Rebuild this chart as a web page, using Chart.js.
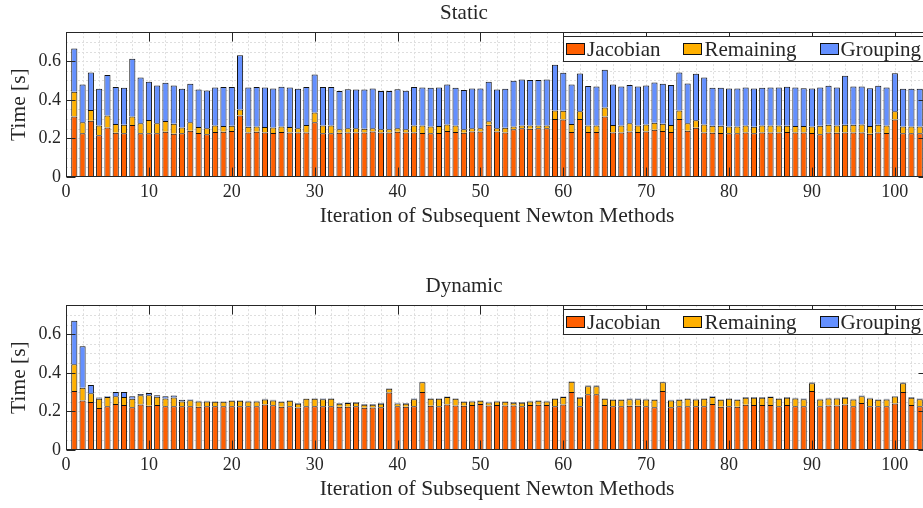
<!DOCTYPE html>
<html>
<head>
<meta charset="utf-8">
<script src="https://cdn.jsdelivr.net/npm/chart.js@4.4.1/dist/chart.umd.min.js"></script>
<style>
  html, body { margin: 0; padding: 0; background: #fff; overflow: hidden; }
  #wrap { position: relative; width: 923px; height: 508px; overflow: hidden; background: #fff; }
  canvas { position: absolute; left: 0; }
  #cStatic { top: 0; }
  #cDynamic { top: 273px; }
</style>
</head>
<body>
<div id="wrap">
  <canvas id="cStatic" width="940" height="235"></canvas>
  <canvas id="cDynamic" width="940" height="235"></canvas>
</div>
<script>
// Newton iteration index (one stacked bar per iteration)
const iterations = Array.from({ length: 103 }, (_, i) => i + 1);

const xTickValues = [0, 10, 20, 30, 40, 50, 60, 70, 80, 90, 100];
const yTickValues = [0, 0.2, 0.4, 0.6];

// Static grouping: time per iteration [s]
const staticJacobian = [
  .314,.226,.291,.216,.257,.229,.226,.269,.226,.226,
  .226,.234,.224,.226,.240,.228,.222,.233,.234,.238,
  .319,.231,.234,.231,.228,.233,.231,.231,.231,.283,
  .226,.226,.229,.231,.231,.231,.236,.231,.231,.234,
  .231,.231,.228,.226,.228,.238,.233,.229,.236,.236,
  .270,.236,.231,.247,.252,.250,.252,.252,.300,.298,
  .233,.300,.233,.233,.314,.231,.231,.236,.233,.236,
  .245,.238,.233,.300,.240,.255,.231,.229,.228,.226,
  .226,.231,.226,.231,.231,.231,.233,.231,.231,.228,
  .221,.231,.229,.231,.231,.231,.224,.231,.228,.298,
  .226,.226,.226
];
const staticRemaining = [
  .127,.057,.056,.051,.062,.045,.045,.045,.053,.069,
  .052,.056,.052,.031,.043,.031,.030,.034,.030,.028,
  .031,.029,.028,.028,.029,.029,.028,.021,.038,.051,
  .041,.041,.018,.021,.021,.019,.017,.016,.016,.018,
  .016,.036,.039,.036,.036,.034,.034,.018,.016,.016,
  .019,.016,.024,.015,.015,.017,.015,.015,.045,.045,
  .041,.041,.034,.034,.046,.038,.036,.042,.034,.036,
  .036,.038,.036,.045,.038,.039,.041,.037,.038,.036,
  .036,.036,.034,.036,.036,.036,.033,.033,.033,.034,
  .045,.040,.038,.040,.040,.041,.040,.040,.039,.043,
  .036,.036,.036
];
const staticGrouping = [
  .225,.196,.194,.190,.209,.192,.191,.298,.237,.198,
  .196,.198,.198,.200,.200,.194,.196,.197,.202,.200,
  .281,.204,.204,.205,.202,.205,.205,.205,.197,.197,
  .199,.199,.198,.203,.201,.203,.206,.198,.198,.203,
  .200,.199,.197,.200,.200,.207,.195,.203,.207,.207,
  .205,.201,.202,.236,.238,.236,.236,.238,.236,.197,
  .205,.195,.204,.202,.195,.210,.202,.198,.202,.202,
  .209,.207,.207,.196,.206,.241,.244,.196,.196,.197,
  .197,.197,.199,.195,.197,.197,.201,.200,.196,.197,
  .198,.201,.197,.253,.198,.197,.196,.201,.197,.197,
  .195,.195,.195
];

// Dynamic grouping: time per iteration [s]
const dynamicJacobian = [
  .306,.257,.248,.217,.226,.238,.233,.221,.236,.229,
  .233,.226,.226,.226,.226,.224,.226,.226,.226,.227,
  .227,.226,.226,.236,.232,.224,.226,.220,.226,.226,
  .226,.226,.224,.224,.227,.219,.220,.222,.298,.226,
  .224,.226,.300,.229,.227,.236,.231,.229,.233,.238,
  .231,.233,.231,.231,.227,.233,.234,.233,.226,.236,
  .300,.227,.289,.289,.233,.227,.227,.229,.229,.227,
  .222,.306,.222,.227,.227,.226,.227,.238,.224,.227,
  .224,.234,.233,.233,.233,.226,.233,.227,.227,.305,
  .227,.231,.231,.236,.227,.243,.227,.226,.226,.241,
  .300,.233,.227
];
const dynamicRemaining = [
  .138,.065,.046,.048,.048,.041,.041,.044,.047,.055,
  .043,.041,.046,.025,.032,.027,.025,.024,.024,.028,
  .028,.025,.025,.026,.024,.026,.029,.019,.039,.039,
  .037,.039,.015,.019,.018,.015,.014,.017,.019,.015,
  .015,.037,.051,.036,.038,.038,.034,.021,.018,.017,
  .015,.018,.019,.014,.018,.018,.021,.018,.039,.038,
  .053,.043,.041,.041,.032,.033,.033,.034,.034,.035,
  .038,.045,.034,.033,.038,.036,.038,.037,.036,.038,
  .036,.036,.037,.037,.041,.039,.037,.040,.036,.041,
  .035,.036,.036,.034,.035,.036,.040,.034,.036,.036,
  .046,.037,.036
];
const dynamicGrouping = [
  .225,.216,.043,.007,.005,.021,.026,.014,.007,.011,
  .008,.012,.010,.009,.004,.004,.004,.003,.003,.003,
  .003,.004,.004,.003,.004,.003,.003,.004,.002,.003,
  .004,.003,.004,.003,.003,.004,.004,.004,.003,.004,
  .004,.004,.003,.003,.003,.003,.003,.003,.004,.003,
  .004,.004,.003,.003,.003,.004,.003,.004,.003,.003,
  .003,.004,.004,.004,.003,.003,.003,.004,.004,.003,
  .003,.003,.004,.003,.003,.003,.003,.004,.003,.003,
  .003,.004,.004,.004,.003,.003,.004,.003,.004,.003,
  .003,.003,.003,.004,.003,.003,.003,.003,.003,.003,
  .003,.004,.004
];

const COLORS = { jacobian: '#FF5F00', remaining: '#FFB000', grouping: '#6490FF' };
const FONT = "'Liberation Serif', 'Times New Roman', serif";
const INK = '#262626';
const X_MAX = 104, Y_MAX = 0.75;

function makeDatasets(jac, rem, grp) {
  const series = [
    ['Jacobian', jac, COLORS.jacobian],
    ['Remaining', rem, COLORS.remaining],
    ['Grouping', grp, COLORS.grouping]
  ];
  return series.map(([label, values, color]) => ({
    label,
    data: iterations.map((x, i) => ({ x, y: values[i] })),
    backgroundColor: color,
    borderColor: '#111',
    borderWidth: 1,
    // one edge line between stacked segments
    borderSkipped: 'bottom',
    barPercentage: 0.74,
    categoryPercentage: 1
  }));
}

// dotted minor/major grid inside the plot box
const dottedGrid = {
  id: 'dottedGrid',
  beforeDatasetsDraw(chart) {
    const { ctx, chartArea: a, scales: { x, y } } = chart;
    ctx.save();
    ctx.beginPath();
    ctx.rect(a.left, a.top, a.right - a.left, a.bottom - a.top);
    ctx.clip();
    ctx.strokeStyle = '#dedede';
    ctx.lineWidth = 1;
    ctx.setLineDash([2, 2]);
    for (let v = 2; v < X_MAX; v += 2) {
      const px = Math.round(x.getPixelForValue(v)) + 0.5;
      ctx.beginPath(); ctx.moveTo(px, a.top); ctx.lineTo(px, a.bottom); ctx.stroke();
    }
    for (let k = 1; k * 0.05 < Y_MAX - 1e-9; k++) {
      const py = Math.round(y.getPixelForValue(k * 0.05)) + 0.5;
      ctx.beginPath(); ctx.moveTo(a.left, py); ctx.lineTo(a.right, py); ctx.stroke();
    }
    ctx.restore();
  }
};

// axes box with inward tick marks on all four sides
const boxFrame = {
  id: 'boxFrame',
  afterDatasetsDraw(chart) {
    const { ctx, chartArea: a, scales: { x, y } } = chart;
    const L = Math.round(a.left) + 0.5, R = Math.round(a.right) - 0.5;
    const T = Math.round(a.top) + 0.5, B = Math.round(a.bottom) - 0.5;
    const tl = 9;
    ctx.save();
    ctx.strokeStyle = INK;
    ctx.lineWidth = 1;
    ctx.beginPath();
    xTickValues.forEach(v => {
      const px = Math.round(x.getPixelForValue(v)) + 0.5;
      ctx.moveTo(px, B); ctx.lineTo(px, B - tl);
      ctx.moveTo(px, T); ctx.lineTo(px, T + tl);
    });
    yTickValues.forEach(v => {
      const py = Math.round(y.getPixelForValue(v)) + 0.5;
      ctx.moveTo(L, py); ctx.lineTo(L + tl, py);
      ctx.moveTo(R, py); ctx.lineTo(R - tl, py);
    });
    ctx.stroke();
    ctx.strokeRect(L, T, R - L, B - T);
    ctx.restore();
  }
};

// horizontal legend box in the upper right corner of the plot
const boxLegend = {
  id: 'boxLegend',
  afterDraw(chart) {
    const { ctx, chartArea: a } = chart;
    ctx.save();
    ctx.font = `21px ${FONT}`;
    const items = chart.data.datasets.map(d => ({
      label: d.label, color: d.backgroundColor, w: ctx.measureText(d.label).width
    }));
    const sw = 19, sh = 12, gapText = 2, gapItem = 23, padL = 3, padR = 4, h = 26;
    let total = padL + padR;
    items.forEach((it, i) => { total += sw + gapText + it.w + (i < items.length - 1 ? gapItem : 0); });
    const right = Math.round(a.right) - 3, left = Math.round(right - total), top = Math.round(a.top) + 4;
    ctx.fillStyle = '#fff';
    ctx.fillRect(left, top, total, h);
    ctx.strokeStyle = INK;
    ctx.lineWidth = 1;
    ctx.strokeRect(left + 0.5, top + 0.5, total - 1, h - 1);
    const cy = top + h / 2;
    let xx = left + padL;
    ctx.textBaseline = 'middle';
    ctx.textAlign = 'left';
    items.forEach(it => {
      const sx = Math.round(xx);
      ctx.fillStyle = it.color;
      ctx.fillRect(sx, Math.round(cy - sh / 2), sw, sh);
      ctx.strokeStyle = '#111';
      ctx.strokeRect(sx + 0.5, Math.round(cy - sh / 2) + 0.5, sw - 1, sh - 1);
      ctx.fillStyle = INK;
      ctx.fillText(it.label, xx + sw + gapText, cy + 1);
      xx += sw + gapText + it.w + gapItem;
    });
    ctx.restore();
  }
};

function makeChart(id, titleText, jac, rem, grp) {
  const canvas = document.getElementById(id);
  return new Chart(canvas, {
    type: 'bar',
    data: { datasets: makeDatasets(jac, rem, grp) },
    plugins: [dottedGrid, boxFrame, boxLegend],
    options: {
      responsive: false,
      animation: false,
      devicePixelRatio: 1,
      layout: { padding: { left: 0, right: canvas.width - 928, top: 0, bottom: 0 } },
      plugins: {
        legend: { display: false },
        tooltip: { enabled: false },
        title: {
          display: true, text: titleText, color: INK,
          font: { family: FONT, size: 21, weight: 'normal', lineHeight: 1.2 },
          padding: { top: 1, bottom: 6 }
        }
      },
      scales: {
        x: {
          type: 'linear', stacked: true, min: 0, max: X_MAX, offset: false,
          grid: { display: false, drawTicks: false, offset: false }, border: { display: false },
          afterBuildTicks: s => { s.ticks = xTickValues.map(v => ({ value: v })); },
          ticks: {
            autoSkip: false, maxRotation: 0, color: INK, padding: 4,
            font: { family: FONT, size: 18 }
          },
          title: {
            display: true, text: 'Iteration of Subsequent Newton Methods', color: INK,
            font: { family: FONT, size: 21.5, lineHeight: 1.2 }, padding: { top: 0, bottom: 6 }
          },
          afterFit: s => { s.height = 58; }
        },
        y: {
          stacked: true, min: 0, max: Y_MAX,
          grid: { display: false, drawTicks: false }, border: { display: false },
          afterBuildTicks: s => { s.ticks = yTickValues.map(v => ({ value: v })); },
          ticks: {
            color: INK, padding: 5, font: { family: FONT, size: 18 },
            callback: v => String(v)
          },
          title: {
            display: true, text: 'Time [s]', color: INK,
            font: { family: FONT, size: 21.5, lineHeight: 1.2 }, padding: { top: 6, bottom: 0 }
          },
          afterFit: s => { s.width = 66; }
        }
      }
    }
  });
}

makeChart('cStatic', 'Static', staticJacobian, staticRemaining, staticGrouping);
makeChart('cDynamic', 'Dynamic', dynamicJacobian, dynamicRemaining, dynamicGrouping);
</script>
</body>
</html>
